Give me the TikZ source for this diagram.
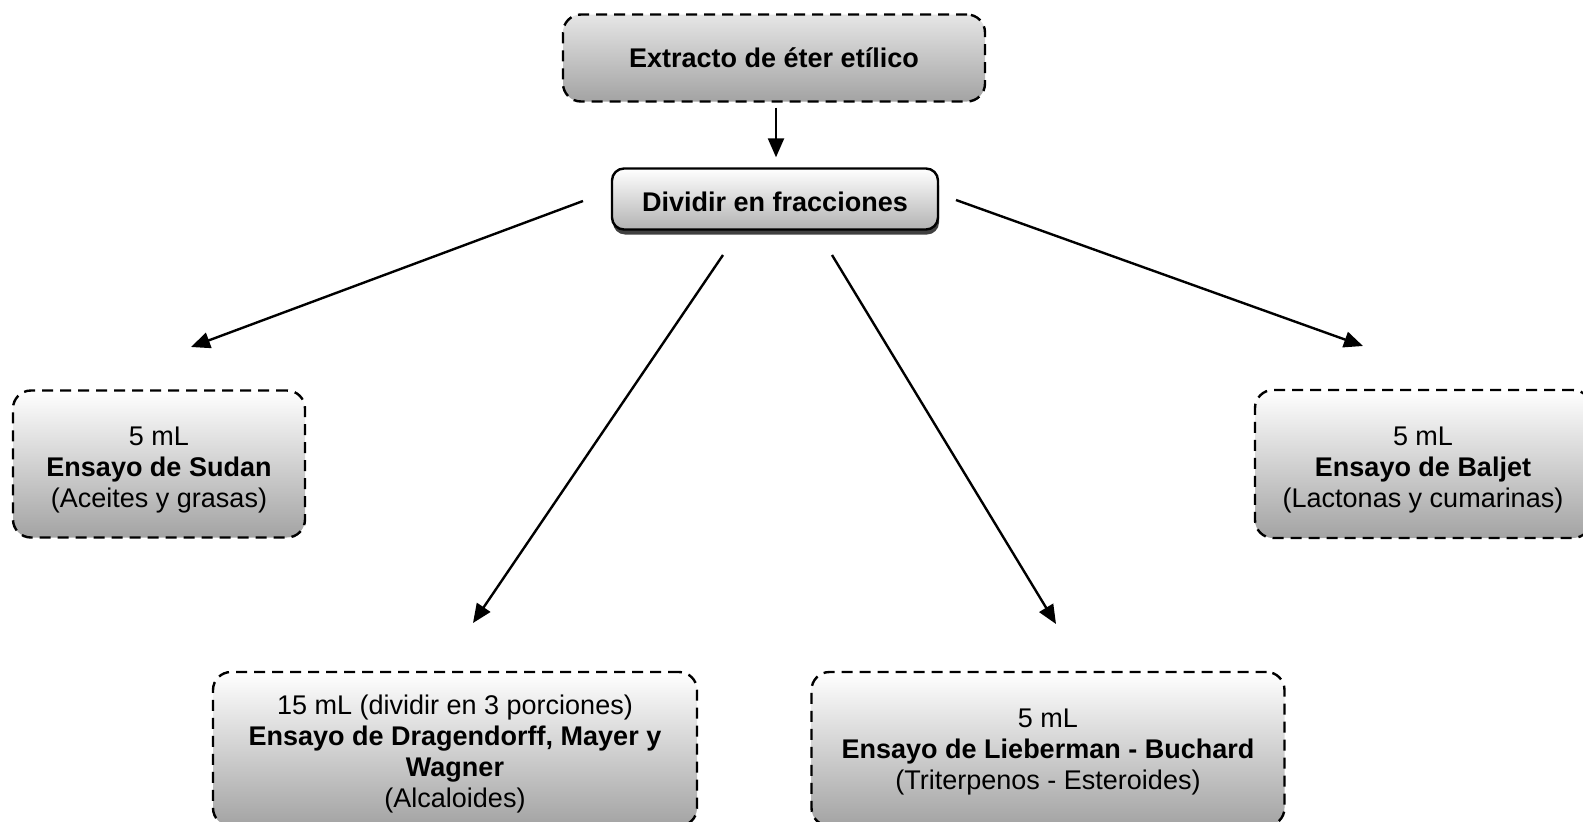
\documentclass[tikz,border=0pt]{standalone}
\usepackage{fontspec}
\setmainfont{Liberation Sans}
\usetikzlibrary{arrows.meta,shadows}

% strut that pushes the first line of a box down a little
\newcommand{\bajar}[1]{\rule{0pt}{#1}}

\tikzset{
  caja/.style={rounded corners=18pt, line width=2.4pt, align=center,
    inner sep=0pt, font=\fontsize{27}{31}\selectfont,
    top color=white, bottom color=black!36},
  ensayo/.style={caja, draw, dash pattern=on 11pt off 7pt},
  flecha/.style={line width=2.4pt, -{Triangle[length=19pt,width=16pt]}},
}

\begin{document}
\begin{tikzpicture}[x=1pt,y=-1pt]
   \useasboundingbox (0,0) rectangle (1583,822);

   % the extract and its split
   \node[ensayo, top color=black!10, minimum width=422pt, minimum height=87pt] (extracto) at (774,58)
     {\textbf{Extracto de éter etílico}};
   \node[caja, draw, rounded corners=12pt, top color=white, bottom color=black!30,
         drop shadow={shadow xshift=1pt, shadow yshift=-5pt, fill=black!75, opacity=1},
         text height=25pt, minimum width=326pt, minimum height=61pt] (dividir) at (775,199)
     {\textbf{Dividir en fracciones}};

   % the tests
   \node[ensayo, minimum width=292pt, minimum height=147pt] (sudan) at (159,464)
     {\bajar{30pt}5 mL\\ \textbf{Ensayo de Sudan}\\ (Aceites y grasas)};
   \node[ensayo, minimum width=336pt, minimum height=148pt] (baljet) at (1423,464)
     {\bajar{30pt}5 mL\\ \textbf{Ensayo de Baljet}\\ (Lactonas y cumarinas)};
   \node[ensayo, minimum width=484pt, minimum height=154pt] (drag) at (455,749)
     {\bajar{29pt}15 mL (dividir en 3 porciones)\\ \textbf{Ensayo de Dragendorff, Mayer y}\\
      \textbf{Wagner}\\ (Alcaloides)};
   \node[ensayo, minimum width=473pt, minimum height=154pt] (lieb) at (1048,749)
     {\bajar{25pt}5 mL\\ \textbf{Ensayo de Lieberman - Buchard}\\ (Triterpenos - Esteroides)};

   % arrows: they start and stop short of the boxes
   \coordinate (sal1) at (583,201);  \coordinate (lleg1) at (191,347);
   \coordinate (sal2) at (956,200);  \coordinate (lleg2) at (1363,346);
   \coordinate (sal3) at (723,255);  \coordinate (lleg3) at (473,623);
   \coordinate (sal4) at (832,255);  \coordinate (lleg4) at (1056,624);

   \draw[flecha, shorten <=5pt, shorten >=10pt] (extracto.south -| 776,0) -- (dividir.north -| 776,0);
   \foreach \i in {1,...,4}
     \draw[flecha] (sal\i) -- (lleg\i);
\end{tikzpicture}
\end{document}
